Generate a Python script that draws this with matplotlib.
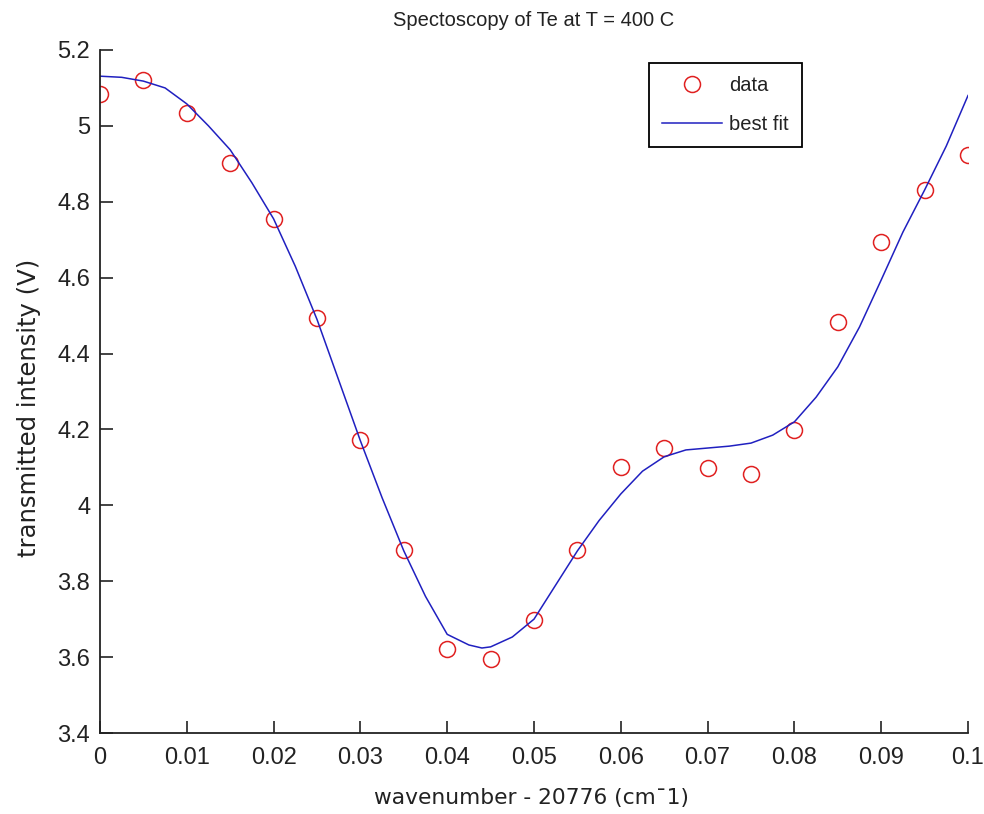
import matplotlib
matplotlib.use("Agg")
import matplotlib.pyplot as plt
from matplotlib.ticker import FuncFormatter

plt.rcParams['font.family'] = ['Liberation Sans', 'DejaVu Sans']

# measured data
data_x = [0.0, 0.005, 0.01, 0.015, 0.02, 0.025, 0.03, 0.035, 0.04, 0.045, 0.05,
          0.055, 0.06, 0.065, 0.07, 0.075, 0.08, 0.085, 0.09, 0.095, 0.1]
data_y = [5.084, 5.121, 5.034, 4.902, 4.755, 4.494, 4.172, 3.882, 3.621, 3.595, 3.698,
          3.882, 4.101, 4.151, 4.098, 4.082, 4.198, 4.483, 4.694, 4.831, 4.923]

# best-fit curve
fit_x = [0.0, 0.0025, 0.005, 0.0075, 0.01, 0.0125, 0.015, 0.0175, 0.02, 0.0225,
         0.025, 0.0275, 0.03, 0.0325, 0.035, 0.0375, 0.04, 0.0425, 0.044, 0.045,
         0.0475, 0.05, 0.0525, 0.055, 0.0575, 0.06, 0.0625, 0.065, 0.0675, 0.07,
         0.0725, 0.075, 0.0775, 0.08, 0.0825, 0.085, 0.0875, 0.09, 0.0925, 0.095,
         0.0975, 0.1]
fit_y = [5.131, 5.128, 5.118, 5.10, 5.058, 5.0, 4.937, 4.85, 4.755, 4.63,
         4.49, 4.33, 4.17, 4.02, 3.88, 3.76, 3.66, 3.632, 3.624, 3.627,
         3.653, 3.70, 3.79, 3.88, 3.96, 4.03, 4.09, 4.128, 4.146, 4.151,
         4.156, 4.164, 4.185, 4.22, 4.285, 4.365, 4.47, 4.594, 4.72, 4.831,
         4.947, 5.08]

x_ticks = [0, 0.01, 0.02, 0.03, 0.04, 0.05, 0.06, 0.07, 0.08, 0.09, 0.1]
y_ticks = [3.4, 3.6, 3.8, 4.0, 4.2, 4.4, 4.6, 4.8, 5.0, 5.2]

TXT = '#222222'

fig = plt.figure(figsize=(9.84, 8.14), dpi=100)
ax = fig.add_axes([100/984, 1-733/814, 868/984, 683/814])

ax.plot(data_x, data_y, 'o', markerfacecolor='none', markeredgecolor='#e02020',
        markersize=11.5, markeredgewidth=1.1, label='data')
ax.plot(fit_x, fit_y, '-', color='#2020c0', linewidth=1.1, label='best fit')

ax.set_xlim(0, 0.1)
ax.set_ylim(3.4, 5.2)
ax.set_xticks(x_ticks)
ax.set_yticks(y_ticks)
fmt = FuncFormatter(lambda v, p: ('%g' % round(v, 4)))
ax.xaxis.set_major_formatter(fmt)
ax.yaxis.set_major_formatter(fmt)
ax.tick_params(direction='in', length=9, width=1.2, labelsize=17, colors=TXT, pad=7)
ax.tick_params(axis='x', pad=10)
for s in ['top', 'right']:
    ax.spines[s].set_visible(False)
for s in ['left', 'bottom']:
    ax.spines[s].set_linewidth(1.3)
    ax.spines[s].set_color(TXT)

ax.set_title('Spectoscopy of Te at T = 400 C', fontsize=14.5, color=TXT, pad=17)
ax.set_xlabel('wavenumber - 20776 (cm\u00af1)', fontsize=15.7, color=TXT,
              family=['DejaVu Sans'])
ax.xaxis.set_label_coords(0.4965, (733 - 798) / 683)
ax.xaxis.label.set_va('center')
ax.set_ylabel('transmitted intensity (V)', fontsize=17.5, color=TXT,
              family=['DejaVu Sans'])
ax.yaxis.set_label_coords((29 - 100) / 868, (733 - 408) / 683)
ax.yaxis.label.set_va('center')

leg = ax.legend(loc='upper right', bbox_to_anchor=(802/984, 1-63/814),
                bbox_transform=fig.transFigure, fancybox=False, framealpha=1,
                edgecolor='black', fontsize=14.5, handlelength=3.0, borderpad=0.65,
                labelspacing=1.0, handletextpad=0.35, borderaxespad=0)
leg.get_frame().set_linewidth(1.3)
for t in leg.get_texts():
    t.set_color(TXT)

fig.savefig('out.png', dpi=100)
